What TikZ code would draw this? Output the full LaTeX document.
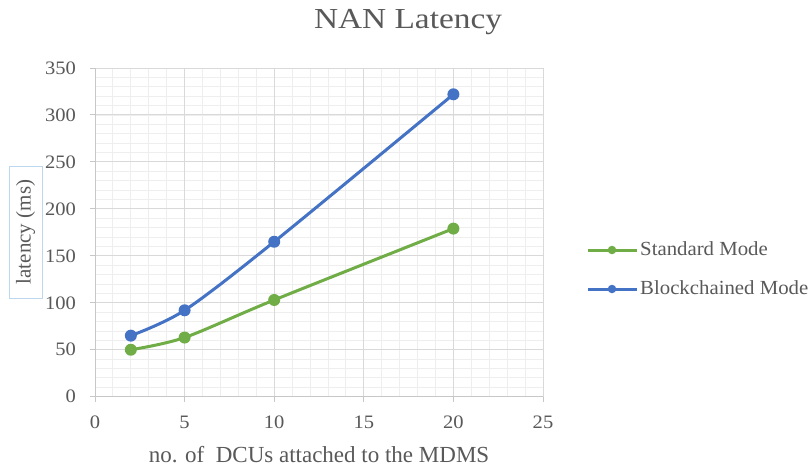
\documentclass[tikz,border=0pt]{standalone}
\usepackage{fontspec}
\usepackage{graphicx}
\setmainfont{Liberation Serif}
\definecolor{txtgray}{HTML}{595959}
\definecolor{majgrid}{HTML}{D9D9D9}
\definecolor{mingrid}{HTML}{EEEEEE}
\definecolor{stdgreen}{HTML}{70AD47}
\definecolor{bcblue}{HTML}{4472C4}
\definecolor{lblbox}{HTML}{BDD7EE}
\newcommand{\wide}[2]{\scalebox{#1}[1]{#2}}
\tikzset{
  ticklbl/.style={text=txtgray, font=\fontsize{19}{22}\selectfont, inner sep=0pt},
  series/.style={line width=3pt, line cap=round, line join=round},
  dot/.style={circle, fill=#1, inner sep=0pt, minimum size=12pt},
  legdot/.style={circle, fill=#1, inner sep=0pt, minimum size=8.5pt},
  legtext/.style={text=txtgray, font=\fontsize{20}{24}\selectfont, anchor=west, inner sep=0pt},
}
\begin{document}
\begin{tikzpicture}[x=1pt, y=-1pt]
\useasboundingbox (0,0) rectangle (812,468);
\fill[white] (0,0) rectangle (812,468);

% title
\node[text=txtgray, font=\fontsize{29}{34}\selectfont, inner sep=0pt] (title) at (408,22) {\wide{1.15}{NAN Latency}};

% plot area in data units
\begin{scope}[shift={(95,396.7)}, x=17.92pt, y=0.9391pt]
  % minor grid
  \foreach \i in {1,...,24} \draw[mingrid, line width=0.9pt] (\i,0) -- (\i,350);
  \foreach \j in {10,20,...,340} \draw[mingrid, line width=0.9pt] (0,\j) -- (25,\j);
  % major grid
  \foreach \i in {5,10,...,25} \draw[majgrid, line width=1pt] (\i,0) -- (\i,350);
  \foreach \j in {50,100,...,350} \draw[majgrid, line width=1pt] (0,\j) -- (25,\j);
  % axes with tick marks
  \draw[majgrid!80!gray, line width=1pt] (0,350) -- (0,0) -- (25,0);
  \foreach \i in {0,5,...,25} \draw[majgrid!80!gray, line width=1pt] (\i,0) -- ++(0,-6);
  \foreach \j in {0,50,...,350} \draw[majgrid!80!gray, line width=1pt] (0,\j) -- ++(-0.3,0);
  % tick labels
  \foreach \i in {0,5,...,25} \node[ticklbl] (xt\i) at (\i,-27) {\wide{1.08}{\i}};
  \foreach \j in {0,50,...,350} \node[ticklbl, anchor=east] (yt\j) at (-1.05,\j) {\wide{1.08}{\j}};

  % data points
  \coordinate (s1) at (2,50);  \coordinate (s2) at (5,63);
  \coordinate (s3) at (10,103); \coordinate (s4) at (20,179);
  \coordinate (b1) at (2,65);  \coordinate (b2) at (5,92);
  \coordinate (b3) at (10,165); \coordinate (b4) at (20,322);

  \draw[series, stdgreen] plot[smooth, tension=0.5] coordinates {(s1) (s2) (s3) (s4)};
  \draw[series, bcblue] plot[smooth, tension=0.5] coordinates {(b1) (b2) (b3) (b4)};
  \foreach \p in {s1,s2,s3,s4} \node[dot=stdgreen] (m\p) at (\p) {};
  \foreach \p in {b1,b2,b3,b4} \node[dot=bcblue] (m\p) at (\p) {};
\end{scope}

% axis titles
\node[text=txtgray, font=\fontsize{23}{27}\selectfont, inner sep=0pt] (xlabel) at (319,455) {no. of\ \ DCUs attached to the MDMS};
\node[draw=lblbox, line width=0.8pt, rotate=90, text=txtgray, font=\fontsize{21}{25}\selectfont,
      minimum width=132pt, minimum height=33pt, inner sep=0pt] (ylabel) at (25.5,232) {latency (ms)};

% legend
\coordinate (lsa) at (588,250); \coordinate (lsb) at (637,250);
\coordinate (lba) at (588,289); \coordinate (lbb) at (637,289);
\draw[stdgreen, line width=3pt] (lsa) -- (lsb);
\node[legdot=stdgreen] (lsd) at (612,250) {};
\node[legtext] (lst) at (640,249) {\wide{1.04}{Standard Mode}};
\draw[bcblue, line width=3pt] (lba) -- (lbb);
\node[legdot=bcblue] (lbd) at (612,289) {};
\node[legtext] (lbt) at (640,288) {\wide{1.04}{Blockchained Mode}};
\end{tikzpicture}
\end{document}
